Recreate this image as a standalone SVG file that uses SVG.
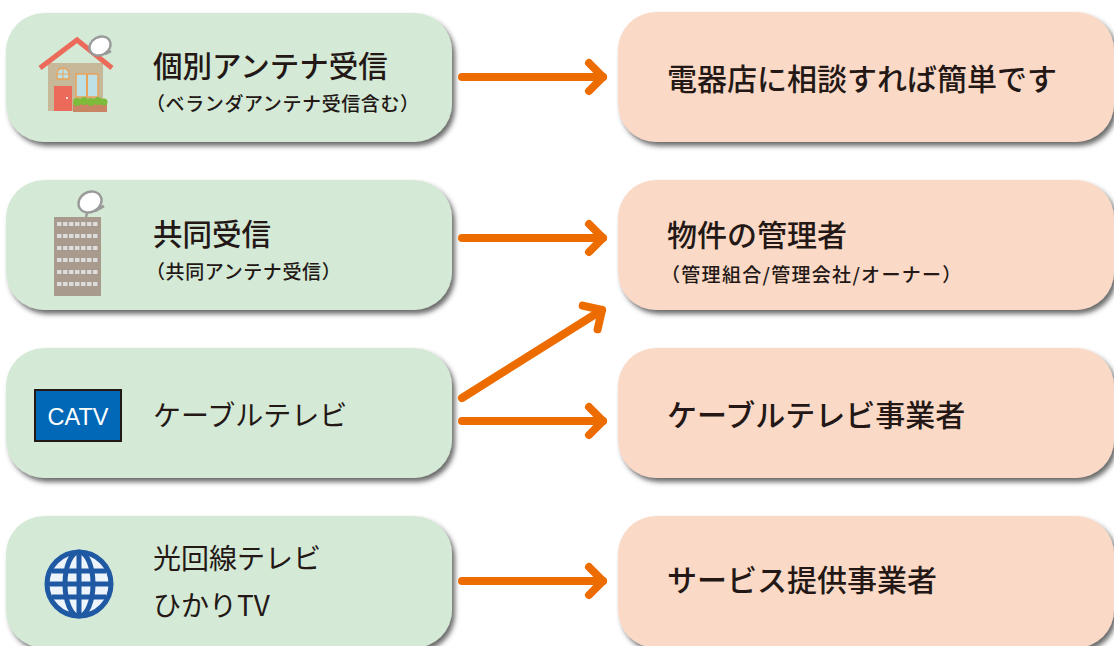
<svg xmlns="http://www.w3.org/2000/svg" width="1114" height="646" viewBox="0 0 1114 646">
<defs>
<filter id="sh" x="-10%" y="-20%" width="130%" height="150%">
<feDropShadow dx="3" dy="4" stdDeviation="2.5" flood-color="#3a3a3a" flood-opacity="0.75"/>
</filter>
<marker id="chev" markerUnits="userSpaceOnUse" viewBox="-22 -22 30 44" markerWidth="30" markerHeight="44" refX="0" refY="0" orient="auto">
<path d="M-14,-14 L0,0 L-14,14" fill="none" stroke="#ec6c00" stroke-width="8" stroke-linecap="round" stroke-linejoin="round"/>
</marker>
<clipPath id="gclip"><rect x="30" y="540" width="84" height="90"/></clipPath>
</defs>
<style>
.src{fill:#d4e9d6;filter:url(#sh)}
.dst{fill:#fad9c6;filter:url(#sh)}
text{font-family:"Noto Sans CJK JP","Noto Sans",sans-serif;fill:#231815}
.t1{font-size:29.5px;font-weight:500}
.t2{font-size:28px;font-weight:400}
.tr{font-size:30px;font-weight:500}
.sub{font-size:19px;font-weight:500;letter-spacing:0.6px}
.sub2{font-size:19px;font-weight:500;letter-spacing:1.3px}
.arr{fill:none;stroke:#ec6c00;stroke-width:8;stroke-linecap:round;marker-end:url(#chev)}
.dish{fill:#ffffff;stroke:#9a9a9a;stroke-width:2.4}
</style>
<rect width="1114" height="646" fill="#ffffff"/>

<g id="node-kobetsu">
<rect class="src" x="6" y="13" width="446" height="129" rx="38"/>
<rect x="48" y="63" width="55" height="48" fill="#c8b89a"/>
<path d="M40,68 L77,40 L112,68" fill="none" stroke="#ec6a5a" stroke-width="5" stroke-linejoin="miter"/>
<rect x="54" y="86" width="18" height="25" fill="#ec6a5a"/>
<circle cx="67" cy="98" r="1" fill="#fff"/>
<rect x="76" y="74" width="22" height="23" fill="#bde0e6" stroke="#e8a35a" stroke-width="1.5"/>
<line x1="87" y1="74" x2="87" y2="97" stroke="#e8a35a" stroke-width="2"/>
<path d="M57,79 L57,74 A6,6 0 0 1 69,74 L69,79 Z" fill="#bde0e6" stroke="#e8a35a" stroke-width="1.3"/>
<line x1="63" y1="68" x2="63" y2="79" stroke="#e8a35a" stroke-width="1"/>
<line x1="57" y1="74" x2="69" y2="74" stroke="#e8a35a" stroke-width="1"/>
<rect x="73" y="102" width="34" height="10" fill="#c98463"/>
<g fill="#7dbb3a"><circle cx="77" cy="102" r="4"/><circle cx="84" cy="101" r="4"/><circle cx="91" cy="102" r="4"/><circle cx="98" cy="101" r="4"/><circle cx="104" cy="102" r="3.5"/></g>
<ellipse class="dish" cx="100" cy="46" rx="11" ry="9" transform="rotate(-30 100 46)"/>
<path d="M105,54 L111,51" stroke="#9a9a9a" stroke-width="2.6"/>
<text class="t1" x="153" y="77">個別アンテナ受信</text>
<text class="sub" x="146" y="111">（ベランダアンテナ受信含む）</text>
</g>

<g id="node-kyodo">
<rect class="src" x="6" y="180" width="446" height="130" rx="38"/>
<rect x="54" y="217" width="47" height="79" fill="#a89a8c"/>
<g fill="#dcdcdc">
<rect x="57" y="222" width="4.5" height="4"/><rect x="63" y="222" width="4.5" height="4"/><rect x="69" y="222" width="4.5" height="4"/><rect x="75" y="222" width="4.5" height="4"/><rect x="81" y="222" width="4.5" height="4"/><rect x="87" y="222" width="4.5" height="4"/><rect x="93" y="222" width="4.5" height="4"/>
<rect x="57" y="234" width="4.5" height="4"/><rect x="63" y="234" width="4.5" height="4"/><rect x="69" y="234" width="4.5" height="4"/><rect x="75" y="234" width="4.5" height="4"/><rect x="81" y="234" width="4.5" height="4"/><rect x="87" y="234" width="4.5" height="4"/><rect x="93" y="234" width="4.5" height="4"/>
<rect x="57" y="246" width="4.5" height="4"/><rect x="63" y="246" width="4.5" height="4"/><rect x="69" y="246" width="4.5" height="4"/><rect x="75" y="246" width="4.5" height="4"/><rect x="81" y="246" width="4.5" height="4"/><rect x="87" y="246" width="4.5" height="4"/><rect x="93" y="246" width="4.5" height="4"/>
<rect x="57" y="258" width="4.5" height="4"/><rect x="63" y="258" width="4.5" height="4"/><rect x="69" y="258" width="4.5" height="4"/><rect x="75" y="258" width="4.5" height="4"/><rect x="81" y="258" width="4.5" height="4"/><rect x="87" y="258" width="4.5" height="4"/><rect x="93" y="258" width="4.5" height="4"/>
<rect x="57" y="270" width="4.5" height="4"/><rect x="63" y="270" width="4.5" height="4"/><rect x="69" y="270" width="4.5" height="4"/><rect x="75" y="270" width="4.5" height="4"/><rect x="81" y="270" width="4.5" height="4"/><rect x="87" y="270" width="4.5" height="4"/><rect x="93" y="270" width="4.5" height="4"/>
<rect x="57" y="282" width="4.5" height="4"/><rect x="63" y="282" width="4.5" height="4"/><rect x="69" y="282" width="4.5" height="4"/><rect x="75" y="282" width="4.5" height="4"/><rect x="81" y="282" width="4.5" height="4"/><rect x="87" y="282" width="4.5" height="4"/><rect x="93" y="282" width="4.5" height="4"/>
</g>
<line x1="88" y1="210" x2="86" y2="217" stroke="#9a9a9a" stroke-width="2.4"/>
<ellipse class="dish" cx="90" cy="202" rx="12" ry="10" transform="rotate(-30 90 202)"/>
<path d="M95,211 L104,206" stroke="#9a9a9a" stroke-width="2.6"/>
<text class="t1" x="153" y="245">共同受信</text>
<text class="sub" x="146" y="279">（共同アンテナ受信）</text>
</g>

<g id="node-catv">
<rect class="src" x="6" y="348" width="446" height="130" rx="38"/>
<rect x="35" y="390" width="86" height="51" fill="#0068b7" stroke="#231815" stroke-width="2"/>
<text x="78" y="425" text-anchor="middle" style="font-family:'Liberation Sans',Arial,sans-serif;font-size:23.5px;fill:#ffffff">CATV</text>
<text class="t2" x="153" y="426">ケーブルテレビ</text>
</g>

<g id="node-hikari">
<rect class="src" x="6" y="516" width="446" height="132" rx="38"/>
<g clip-path="url(#gclip)" fill="none" stroke="#2059a3" stroke-width="5">
<circle cx="79" cy="584" r="32" fill="#eef4fb"/>
<ellipse cx="79" cy="584" rx="14" ry="32"/>
<line x1="79" y1="552" x2="79" y2="616"/>
<line x1="47" y1="584" x2="111" y2="584"/>
<line x1="52" y1="571" x2="106" y2="571"/>
<line x1="52" y1="597" x2="106" y2="597"/>
</g>
<text class="t2" x="153" y="569">光回線テレビ</text>
<text class="t2" x="153" y="616">ひかりTV</text>
</g>

<g id="node-denki">
<rect class="dst" x="618" y="12" width="496" height="130" rx="38"/>
<text class="tr" x="667" y="90">電器店に相談すれば簡単です</text>
</g>

<g id="node-kanri">
<rect class="dst" x="618" y="180" width="496" height="130" rx="38"/>
<text class="tr" x="667" y="246">物件の管理者</text>
<text class="sub2" x="661" y="282">（管理組合/管理会社/オーナー）</text>
</g>

<g id="node-cable">
<rect class="dst" x="618" y="348" width="496" height="130" rx="38"/>
<text class="tr" x="667" y="426">ケーブルテレビ事業者</text>
</g>

<g id="node-service">
<rect class="dst" x="618" y="516" width="496" height="132" rx="38"/>
<text class="tr" x="667" y="591">サービス提供事業者</text>
</g>

<g id="connectors">
<path class="arr" d="M462,77 L603,77"/>
<path class="arr" d="M462,238 L603,238"/>
<path class="arr" d="M462,398 L602,310"/>
<path class="arr" d="M462,421 L603,421"/>
<path class="arr" d="M462,581 L603,581"/>
</g>
</svg>
